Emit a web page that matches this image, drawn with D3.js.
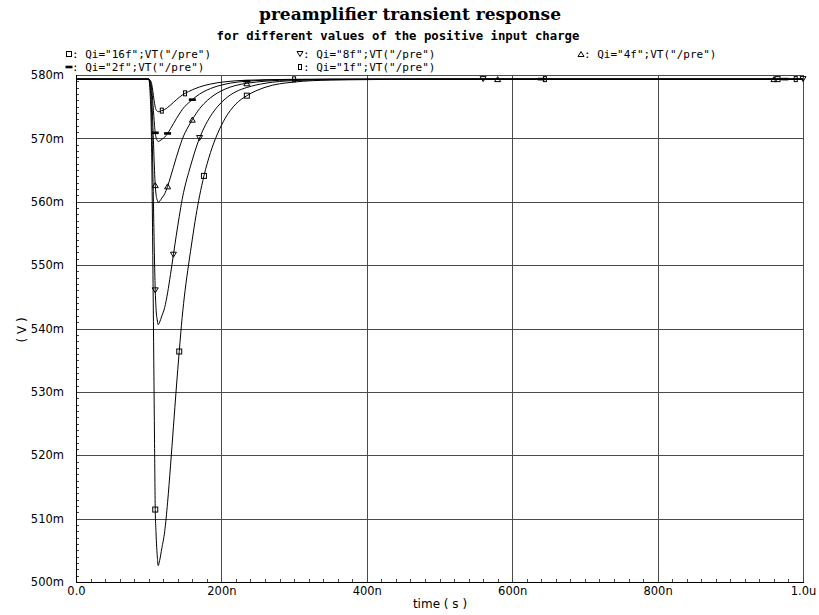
<!DOCTYPE html>
<html>
<head>
<meta charset="utf-8">
<script src="https://cdn.jsdelivr.net/npm/d3@7"></script>
<style>
  html, body { margin: 0; padding: 0; background: #fff; }
  svg { display: block; }
</style>
</head>
<body>
<svg id="chart" width="819" height="615"></svg>
<script>
// Sample times (ns) shared by every trace
const timeNs = [0, 100, 102, 104, 106, 108, 109, 110, 112, 113, 115, 118, 122, 126, 130, 134, 138, 142, 146, 150,
                155, 160, 165, 170, 176, 185, 195, 205, 220, 235, 260, 300, 350, 400, 500, 1000];

// VT("/pre") in mV for each input charge
const vQ16 = [579.35, 579.35, 577.05, 568.60, 547.11, 522.55, 511.43, 507.97, 503.75, 502.60, 503.37, 505.29, 507.97, 512.58, 518.33, 524.47, 530.61, 536.37, 541.74, 545.96,
              550.18, 554.10, 557.78, 560.93, 564.08, 567.76, 570.83, 573.13, 575.44, 576.74, 578.05, 578.89, 579.20, 579.27, 579.35, 579.35];
const vQ8  = [579.35, 579.35, 578.19, 573.92, 563.07, 550.67, 546.02, 543.31, 541.18, 540.60, 540.99, 541.96, 543.31, 545.64, 548.54, 551.64, 554.74, 557.65, 560.36, 562.49,
              564.62, 566.60, 568.46, 570.05, 571.64, 573.50, 575.05, 576.21, 577.37, 578.03, 578.69, 579.12, 579.27, 579.31, 579.35, 579.35];
const vQ4  = [579.35, 579.35, 578.77, 576.63, 571.18, 564.96, 562.62, 561.26, 560.19, 559.90, 560.09, 560.58, 561.26, 562.43, 563.89, 565.44, 567.00, 568.46, 569.82, 570.89,
              571.96, 572.95, 573.88, 574.68, 575.48, 576.41, 577.19, 577.77, 578.36, 578.69, 579.02, 579.23, 579.31, 579.33, 579.35, 579.35];
const vQ2  = [579.35, 579.35, 579.05, 577.97, 575.21, 572.06, 570.88, 570.19, 569.65, 569.50, 569.60, 569.84, 570.19, 570.78, 571.52, 572.31, 573.10, 573.83, 574.52, 575.07,
              575.61, 576.11, 576.58, 576.99, 577.39, 577.86, 578.26, 578.55, 578.85, 579.02, 579.18, 579.29, 579.33, 579.34, 579.35, 579.35];
const vQ1  = [579.35, 579.35, 579.20, 578.63, 577.19, 575.54, 574.92, 574.56, 574.28, 574.20, 574.25, 574.38, 574.56, 574.87, 575.26, 575.67, 576.08, 576.47, 576.83, 577.11,
              577.39, 577.66, 577.90, 578.11, 578.33, 578.57, 578.78, 578.93, 579.09, 579.17, 579.26, 579.32, 579.34, 579.35, 579.35, 579.35];

// Times (ns) where each trace carries its symbol
const markQ16 = [109, 142, 176, 235, 965];
const markQ8  = [109, 134, 170, 560, 1000];
const markQ4  = [109, 126, 160, 235, 580, 960];
const markQ2  = [109, 126, 160, 235, 640, 975];
const markQ1  = [118, 150, 300, 645, 990];

const seriesNames = ['Qi="16f";VT("/pre")', 'Qi="8f";VT("/pre")', 'Qi="4f";VT("/pre")', 'Qi="2f";VT("/pre")', 'Qi="1f";VT("/pre")'];
const seriesSymbols = ["square", "tridown", "triup", "dash", "bar"];

// Axis ticks
const yTickValues = [500, 510, 520, 530, 540, 550, 560, 570, 580];
const yTickLabels = ["500m", "510m", "520m", "530m", "540m", "550m", "560m", "570m", "580m"];
const xTickValues = [0, 200, 400, 600, 800, 1000];
const xTickLabels = ["0.0", "200n", "400n", "600n", "800n", "1.0u"];

const titleText = "preamplifier transient response";
const subtitleText = "for different values of the positive input charge";

// ---- layout ----
const plot = { left: 76, right: 803, top: 75, bottom: 582 };
const svg = d3.select("#chart");

const x = d3.scaleLinear().domain([0, 1000]).range([plot.left, plot.right]);
const y = d3.scaleLinear().domain([500, 580]).range([plot.bottom, plot.top]);

const tickFont = "'DejaVu Sans', sans-serif";
const legendFont = "'DejaVu Sans Mono', monospace";

// grid
const grid = svg.append("g").attr("shape-rendering", "crispEdges");
grid.selectAll("line.gx").data(xTickValues).join("line")
  .attr("x1", d => Math.round(x(d)) + 0.5).attr("x2", d => Math.round(x(d)) + 0.5)
  .attr("y1", plot.top).attr("y2", plot.bottom)
  .attr("stroke", "#4a4a4a").attr("stroke-width", 1);
grid.selectAll("line.gy").data(yTickValues).join("line")
  .attr("y1", d => Math.round(y(d)) + 0.5).attr("y2", d => Math.round(y(d)) + 0.5)
  .attr("x1", plot.left).attr("x2", plot.right)
  .attr("stroke", "#4a4a4a").attr("stroke-width", 1);

// minor ticks (inside the frame on the left and bottom)
const yMinor = d3.range(500, 581, 1);
const xMinor = d3.range(0, 1001, 20);
grid.selectAll("line.my").data(yMinor).join("line")
  .attr("x1", plot.left).attr("x2", plot.left + 3)
  .attr("y1", d => Math.round(y(d)) + 0.5).attr("y2", d => Math.round(y(d)) + 0.5)
  .attr("stroke", "#444");
grid.selectAll("line.mx").data(xMinor).join("line")
  .attr("y1", plot.bottom).attr("y2", plot.bottom - 3)
  .attr("x1", d => Math.round(x(d)) + 0.5).attr("x2", d => Math.round(x(d)) + 0.5)
  .attr("stroke", "#444");

// frame
grid.append("line").attr("x1", plot.left + 0.5).attr("x2", plot.left + 0.5)
  .attr("y1", plot.top).attr("y2", plot.bottom + 1).attr("stroke", "#000");
grid.append("line").attr("x1", plot.left).attr("x2", plot.right + 1)
  .attr("y1", plot.bottom + 0.5).attr("y2", plot.bottom + 0.5).attr("stroke", "#000");

// axes labels via d3 axes (lines hidden, labels only)
const yAxis = d3.axisLeft(y).tickValues(yTickValues).tickSize(0).tickPadding(12)
  .tickFormat((d, i) => yTickLabels[i]);
const gy = svg.append("g").attr("transform", `translate(${plot.left},0)`).call(yAxis);
gy.select(".domain").remove();
gy.selectAll("text").attr("font-family", tickFont).attr("font-size", 11.5).attr("fill", "#000");

const xAxis = d3.axisBottom(x).tickValues(xTickValues).tickSize(0).tickPadding(5)
  .tickFormat((d, i) => xTickLabels[i]);
const gx = svg.append("g").attr("transform", `translate(0,${plot.bottom})`).call(xAxis);
gx.select(".domain").remove();
gx.selectAll("text").attr("font-family", tickFont).attr("font-size", 11.5).attr("fill", "#000");

svg.append("text").attr("x", 440).attr("y", 608)
  .attr("text-anchor", "middle").attr("font-family", tickFont).attr("font-size", 12)
  .text("time ( s )");
svg.append("text").attr("transform", "translate(26,330) rotate(-90)")
  .attr("text-anchor", "middle").attr("font-family", tickFont).attr("font-size", 12)
  .text("( V )");

// titles
svg.append("text").attr("x", 410).attr("y", 20).attr("text-anchor", "middle")
  .attr("font-family", "'DejaVu Serif', serif").attr("font-weight", "bold").attr("font-size", 17)
  .text(titleText);
svg.append("text").attr("x", 398).attr("y", 40).attr("text-anchor", "middle")
  .attr("font-family", "'DejaVu Sans Mono', monospace").attr("font-weight", "bold").attr("font-size", 12.3)
  .text(subtitleText);

// traces
const traces = [vQ16, vQ8, vQ4, vQ2, vQ1];
const marks = [markQ16, markQ8, markQ4, markQ2, markQ1];
const line = d3.line().x(d => x(d[0])).y(d => y(d[1])).curve(d3.curveMonotoneX);

svg.append("clipPath").attr("id", "plotclip").append("rect")
  .attr("x", plot.left).attr("y", plot.top - 2).attr("width", plot.right - plot.left + 2).attr("height", plot.bottom - plot.top + 2);

const gl = svg.append("g").attr("clip-path", "url(#plotclip)");
traces.forEach(v => {
  gl.append("path").datum(timeNs.map((t, i) => [t, v[i]]))
    .attr("d", line).attr("fill", "none").attr("stroke", "#000").attr("stroke-width", 1);
});

function valueAt(v, t) {
  const i = d3.bisectLeft(timeNs, t);
  if (i <= 0) return v[0];
  if (i >= timeNs.length) return v[v.length - 1];
  const t0 = timeNs[i - 1], t1 = timeNs[i];
  return v[i - 1] + (v[i] - v[i - 1]) * (t - t0) / (t1 - t0);
}

function drawSymbol(g, kind, cx, cy) {
  if (kind === "square") {
    g.append("rect").attr("x", cx - 2.5).attr("y", cy - 2.5).attr("width", 5).attr("height", 5)
      .attr("fill", "none").attr("stroke", "#000").attr("stroke-width", 1);
  } else if (kind === "tridown") {
    g.append("path").attr("d", `M${cx - 3},${cy - 2.5}L${cx + 3},${cy - 2.5}L${cx},${cy + 2.5}Z`)
      .attr("fill", "none").attr("stroke", "#000").attr("stroke-width", 1);
  } else if (kind === "triup") {
    g.append("path").attr("d", `M${cx - 3},${cy + 2.5}L${cx + 3},${cy + 2.5}L${cx},${cy - 2.5}Z`)
      .attr("fill", "none").attr("stroke", "#000").attr("stroke-width", 1);
  } else if (kind === "dash") {
    g.append("rect").attr("x", cx - 3.5).attr("y", cy - 1.3).attr("width", 7).attr("height", 2.6).attr("fill", "#000");
  } else if (kind === "bar") {
    g.append("rect").attr("x", cx - 1.5).attr("y", cy - 2.5).attr("width", 3).attr("height", 5)
      .attr("fill", "none").attr("stroke", "#000").attr("stroke-width", 1);
  }
}

const gm = svg.append("g");
traces.forEach((v, k) => {
  marks[k].forEach(t => drawSymbol(gm, seriesSymbols[k], x(t), y(valueAt(v, t))));
});

// legend
const legendPos = [[69, 54], [300, 54], [581, 54], [69, 67], [300, 67]];
const gleg = svg.append("g");
seriesNames.forEach((name, k) => {
  const [lx, ly] = legendPos[k];
  drawSymbol(gleg, seriesSymbols[k], lx, ly);
  gleg.append("text").attr("x", lx + 3).attr("y", ly + 4)
    .attr("font-family", legendFont).attr("font-size", 11)
    .text(": " + name);
});
</script>
</body>
</html>
